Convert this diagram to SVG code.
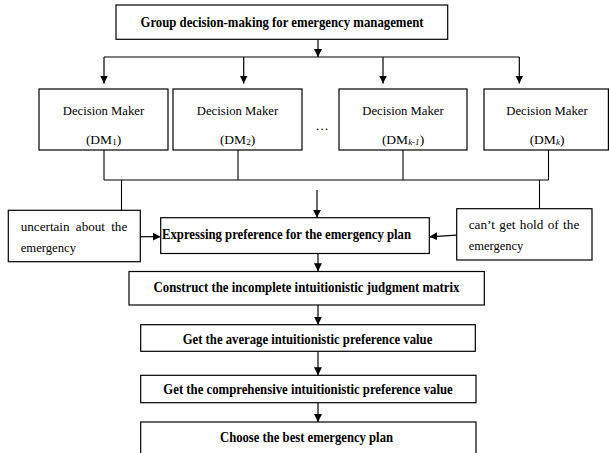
<svg xmlns="http://www.w3.org/2000/svg" width="609" height="453" viewBox="0 0 609 453">
<style>
  .box { fill: #ffffff; stroke: #000000; stroke-width: 1.2; }
  .ln { fill: none; stroke: #000000; stroke-width: 1.1; }
  .arr { fill: none; stroke: #000000; stroke-width: 1.2; marker-end: url(#ah); }
  text { font-family: "Liberation Serif", "Times New Roman", serif; font-size: 13.5px; fill: #000000; }
  .b { font-weight: bold; font-size: 14px; }
  .c { text-anchor: middle; }
  .sub { font-size: 9px; }
</style>
<defs>
  <marker id="ah" markerWidth="8" markerHeight="8" refX="8" refY="4" orient="auto" markerUnits="userSpaceOnUse">
    <path d="M0,0 L8,4 L0,8 Z" fill="#000000"/>
  </marker>
</defs>
<rect width="609" height="453" fill="#ffffff"/>

<g id="connectors">
  <line class="arr" x1="318" y1="39.5" x2="318" y2="57"/>
  <line class="ln" x1="104" y1="57" x2="519.3" y2="57"/>
  <line class="arr" x1="104" y1="57" x2="104" y2="83.5"/>
  <line class="arr" x1="243.7" y1="57" x2="243.7" y2="83.5"/>
  <line class="arr" x1="383" y1="57" x2="383" y2="83.5"/>
  <line class="arr" x1="519.3" y1="57" x2="519.3" y2="83.5"/>
  <line class="ln" x1="104" y1="150" x2="104" y2="180"/>
  <line class="ln" x1="238" y1="150" x2="238" y2="180"/>
  <line class="ln" x1="403" y1="150" x2="403" y2="180"/>
  <line class="ln" x1="548.5" y1="150" x2="548.5" y2="180"/>
  <line class="ln" x1="104" y1="180" x2="548.5" y2="180"/>
  <line class="ln" x1="121.5" y1="180" x2="121.5" y2="210.3"/>
  <line class="ln" x1="539.5" y1="180" x2="539.5" y2="208.7"/>
  <line class="arr" x1="317" y1="190" x2="317" y2="217.7"/>
  <line class="arr" x1="140.3" y1="236.7" x2="160.7" y2="236.7"/>
  <line class="arr" x1="456.7" y1="235.2" x2="429.3" y2="236.8"/>
  <line class="arr" x1="318" y1="253.5" x2="318" y2="271.3"/>
  <line class="arr" x1="318" y1="305" x2="318" y2="324.7"/>
  <line class="arr" x1="318" y1="351.3" x2="318" y2="375.3"/>
  <line class="arr" x1="318" y1="402.7" x2="318" y2="422"/>
</g>

<g id="top">
  <rect class="box" x="116" y="5" width="331.7" height="34.3"/>
  <text class="b c" x="282" y="27" textLength="283" lengthAdjust="spacingAndGlyphs">Group decision-making for emergency management</text>
</g>

<g id="dm1">
  <rect class="box" x="39" y="89" width="129" height="61"/>
  <text class="c" x="103.5" y="115" textLength="81.3" lengthAdjust="spacingAndGlyphs">Decision Maker</text>
  <text class="c" x="103.5" y="143.5">(DM<tspan class="sub" dy="1.5">1</tspan><tspan dy="-1.5">)</tspan></text>
</g>

<g id="dm2">
  <rect class="box" x="173" y="89" width="129" height="61"/>
  <text class="c" x="237.5" y="115" textLength="81.3" lengthAdjust="spacingAndGlyphs">Decision Maker</text>
  <text class="c" x="237.5" y="143.5">(DM<tspan class="sub" dy="1.5">2</tspan><tspan dy="-1.5">)</tspan></text>
</g>

<g id="ellipsis">
  <text class="c" x="322" y="130">…</text>
</g>

<g id="dm3">
  <rect class="box" x="339" y="89" width="128" height="61"/>
  <text class="c" x="403" y="115" textLength="81.3" lengthAdjust="spacingAndGlyphs">Decision Maker</text>
  <text class="c" x="403" y="143.5">(DM<tspan class="sub" dy="1.5" font-style="italic">k-1</tspan><tspan dy="-1.5">)</tspan></text>
</g>

<g id="dm4">
  <rect class="box" x="484" y="89" width="124.4" height="61"/>
  <text class="c" x="547" y="115" textLength="81.3" lengthAdjust="spacingAndGlyphs">Decision Maker</text>
  <text class="c" x="547" y="143.5">(DM<tspan class="sub" dy="1.5" font-style="italic">k</tspan><tspan dy="-1.5">)</tspan></text>
</g>

<g id="uncertain">
  <rect class="box" x="8.3" y="210.3" width="132" height="51.4"/>
  <text x="20.7" y="230.5" textLength="106.6" lengthAdjust="spacingAndGlyphs" word-spacing="3">uncertain about the</text>
  <text x="20.7" y="251.5" textLength="55.3" lengthAdjust="spacingAndGlyphs">emergency</text>
</g>

<g id="expressing">
  <rect class="box" x="160.7" y="217.7" width="268.6" height="35.8"/>
  <text class="b" x="162" y="239" textLength="249" lengthAdjust="spacingAndGlyphs">Expressing preference for the emergency plan</text>
</g>

<g id="cantget">
  <rect class="box" x="456.7" y="208.7" width="135.3" height="51.3"/>
  <text x="468.7" y="229" textLength="110.6" lengthAdjust="spacingAndGlyphs" word-spacing="1">can’t get hold of the</text>
  <text x="468.7" y="249.5" textLength="54.7" lengthAdjust="spacingAndGlyphs">emergency</text>
</g>

<g id="construct">
  <rect class="box" x="129" y="271.5" width="355.3" height="33.5"/>
  <text class="b c" x="306.5" y="291.5" textLength="306" lengthAdjust="spacingAndGlyphs">Construct the incomplete intuitionistic judgment matrix</text>
</g>

<g id="average">
  <rect class="box" x="140.7" y="324.7" width="334.6" height="26.6"/>
  <text class="b c" x="307.5" y="344" textLength="249.6" lengthAdjust="spacingAndGlyphs">Get the average intuitionistic preference value</text>
</g>

<g id="comprehensive">
  <rect class="box" x="140.7" y="375.3" width="335.3" height="27.4"/>
  <text class="b c" x="308" y="394" textLength="289.4" lengthAdjust="spacingAndGlyphs">Get the comprehensive intuitionistic preference value</text>
</g>

<g id="choose">
  <rect class="box" x="140.7" y="422" width="335.3" height="40"/>
  <text class="b c" x="306.5" y="442" textLength="173" lengthAdjust="spacingAndGlyphs">Choose the best emergency plan</text>
</g>
</svg>
